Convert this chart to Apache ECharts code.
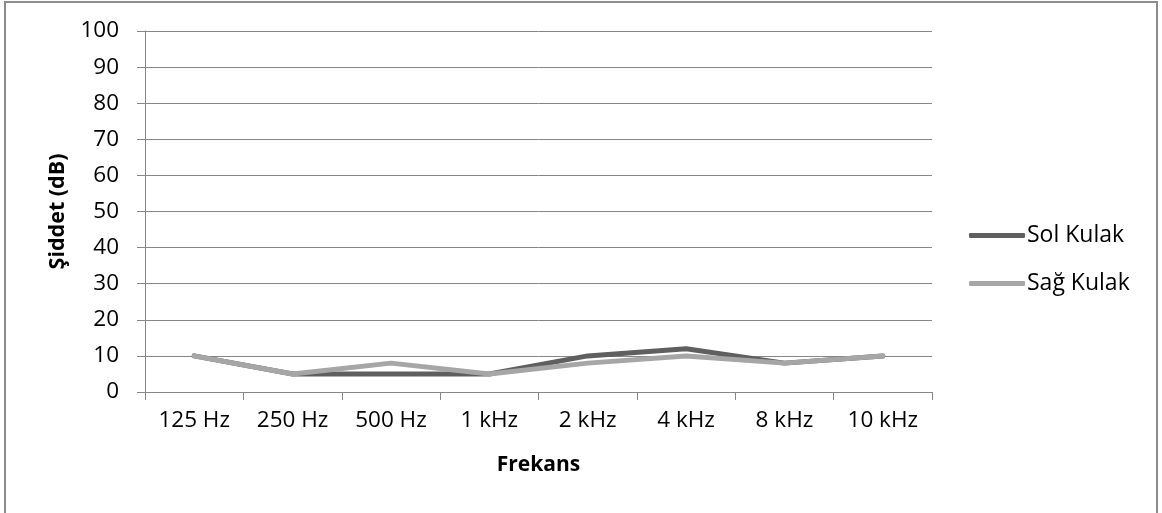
<!DOCTYPE html>
<html>
<head>
<meta charset="utf-8">
<script src="https://cdn.jsdelivr.net/npm/echarts@6/dist/echarts.min.js"></script>
<style>html,body{margin:0;padding:0;background:#fff;}#c{width:1162px;height:513px;}</style>
</head>
<body>
<div id="c"></div>
<script>
const categories = ['125 Hz','250 Hz','500 Hz','1 kHz','2 kHz','4 kHz','8 kHz','10 kHz'];
const solKulak = [10,5,5,5,10,12,8,10];
const sagKulak = [10,5,8,5,8,10,8,10];
const seriesNames = ['Sol Kulak','Sağ Kulak'];
const yTitle = 'Şiddet (dB)';
const xTitle = 'Frekans';

const font = '"Open Sans", sans-serif';
const chart = echarts.init(document.getElementById('c'), null, {renderer:'canvas'});
chart.setOption({
  animation:false,
  backgroundColor:'#ffffff',
  textStyle:{fontFamily:font},
  graphic:[{type:'rect',shape:{x:5,y:2,width:1152,height:530},style:{fill:'none',stroke:'#8c8c8c',lineWidth:2},silent:true}],
  grid:{left:145,right:230,top:31,bottom:121,containLabel:false},
  legend:{
    orient:'vertical', left:964, top:219, itemWidth:56, itemHeight:5, itemGap:25,
    icon:'roundRect',
    textStyle:{fontFamily:font,fontSize:23,color:'#000',padding:[0,0,0,-3]},
    data:seriesNames
  },
  xAxis:{
    type:'category', data:categories, boundaryGap:true,
    axisLine:{lineStyle:{color:'#868686',width:1}},
    axisTick:{show:true,length:8,lineStyle:{color:'#868686'},alignWithLabel:false},
    axisLabel:{fontFamily:font,fontSize:22.5,color:'#000',margin:17,interval:0},
    name:xTitle, nameLocation:'middle', nameGap:63,
    nameTextStyle:{fontFamily:font,fontSize:21,fontWeight:'bold',color:'#000'}
  },
  yAxis:{
    type:'value', min:0, max:100, interval:10,
    axisLine:{show:true,lineStyle:{color:'#868686',width:1}},
    axisTick:{show:true,length:8,lineStyle:{color:'#868686'}},
    axisLabel:{fontFamily:font,fontSize:22.5,color:'#000',margin:26},
    splitLine:{lineStyle:{color:'#868686',width:1}},
    name:yTitle, nameLocation:'middle', nameGap:76, nameRotate:90,
    nameTextStyle:{fontFamily:font,fontSize:21.5,fontWeight:'bold',color:'#000'}
  },
  series:[
    {name:seriesNames[0],type:'line',data:solKulak,symbol:'none',lineStyle:{width:5,color:'#5f5f5f',cap:'round',join:'round'},itemStyle:{color:'#5f5f5f'}},
    {name:seriesNames[1],type:'line',data:sagKulak,symbol:'none',lineStyle:{width:5,color:'#a6a6a6',cap:'round',join:'round'},itemStyle:{color:'#a6a6a6'}}
  ]
});
</script>
</body>
</html>
